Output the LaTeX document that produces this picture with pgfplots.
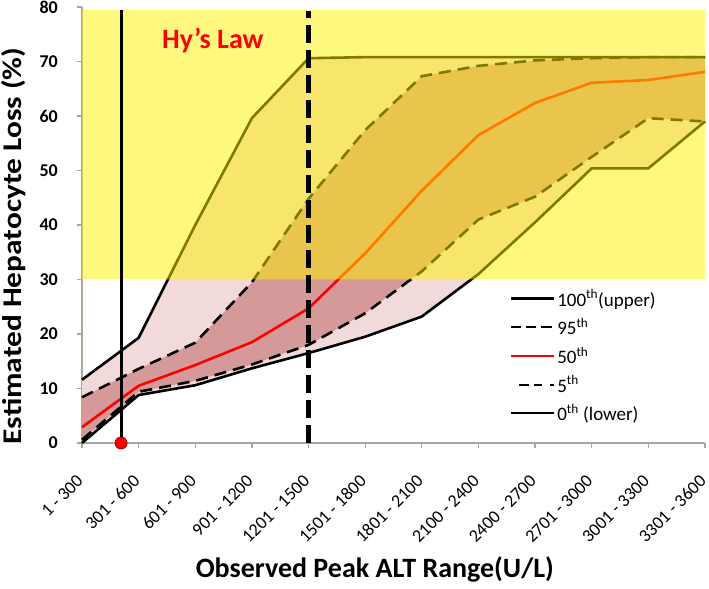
\documentclass[border=0pt]{standalone}
\usepackage{fontspec}
\setmainfont{Carlito}
\newfontfamily\ylabfont[FakeStretch=1.16]{Carlito}
\usepackage{pgfplots}
\pgfplotsset{compat=1.18}
\usepgfplotslibrary{fillbetween}
\definecolor{pinkouter}{HTML}{F2DADA}
\definecolor{pinkinner}{HTML}{D6999A}
\definecolor{axgray}{HTML}{A6A6A6}
\begin{document}
\begin{tikzpicture}
\begin{axis}[
  name=ax,
  scale only axis, width=623bp, height=436bp,
  xmin=0, xmax=11, ymin=0, ymax=80,
  clip=false,
  axis lines*=left,
  axis line style={axgray, line width=1.5bp},
  tick style={axgray, line width=1.2bp},
  tick align=outside,
  major tick length=5bp,
  xtick={0,...,11},
  xticklabels={1 - 300, 301 - 600, 601 - 900, 901 - 1200, 1201 - 1500, 1501 - 1800, 1801 - 2100, 2100 - 2400, 2400 - 2700, 2701 - 3000, 3001 - 3300, 3301 - 3600},
  ytick={0,10,...,80},
  /pgf/number format/assume math mode=true,
  xticklabel style={xshift=-2bp, yshift=-30bp, rotate=45, anchor=east, font=\fontsize{18bp}{21bp}\selectfont, inner sep=0pt},
  yticklabel style={anchor=east, font=\bfseries\fontsize{18bp}{21bp}\selectfont, inner sep=0pt, xshift=-19bp},
  xlabel={Observed Peak ALT Range(U/L)},
  ylabel={Estimated Hepatocyte Loss (\%)},
  xlabel style={at={(axis description cs:0.470,-0.291)}, anchor=center, font=\bfseries\fontsize{28bp}{31bp}\selectfont},
  ylabel style={at={(axis description cs:-0.109,0.452)}, anchor=center, inner sep=0pt, font=\ylabfont\bfseries\fontsize{27bp}{30bp}\selectfont},
  legend style={at={(axis description cs:0.682,0.362)}, anchor=north west, draw=none, fill=none,
    font=\fontsize{19bp}{22bp}\selectfont, row sep=6.5bp, cells={anchor=west}},
  legend image code/.code={\draw[#1] (0bp,0bp) -- (31bp,0bp); \path (31bp,0bp) -- (43bp,0bp);},
]
% percentile curves (invisible, for fills)
\addplot[name path=p100, draw=none, forget plot] coordinates {(0,11.6) (1,19.3) (2,40) (3,59.6) (4,70.6) (5,70.8) (6,70.8) (7,70.8) (8,70.8) (9,70.8) (10,70.8) (11,70.8)};
\addplot[name path=p95, draw=none, forget plot] coordinates {(0,8.4) (1,13.6) (2,18.4) (3,29.5) (4,44.8) (5,57.4) (6,67.3) (7,69.2) (8,70.2) (9,70.6) (10,70.8) (11,70.8)};
\addplot[name path=p50, draw=none, forget plot] coordinates {(0,2.9) (1,10.5) (2,14.3) (3,18.5) (4,24.7) (5,34.8) (6,46.3) (7,56.5) (8,62.4) (9,66.1) (10,66.6) (11,68.1)};
\addplot[name path=p5, draw=none, forget plot] coordinates {(0,0.6) (1,9.4) (2,11.4) (3,14.4) (4,18.0) (5,23.8) (6,31.5) (7,41.0) (8,45.2) (9,52.5) (10,59.6) (11,59.0)};
\addplot[name path=p0, draw=none, forget plot] coordinates {(0,0) (1,8.8) (2,10.6) (3,13.7) (4,16.5) (5,19.5) (6,23.2) (7,31.0) (8,40.5) (9,50.4) (10,50.4) (11,59.0)};
\addplot[fill=pinkouter, draw=none, forget plot] fill between[of=p100 and p0];
\addplot[fill=pinkinner, draw=none, forget plot] fill between[of=p95 and p5];
% visible lines
\addplot[black, line width=2.6bp, forget plot] coordinates {(0,11.6) (1,19.3) (2,40) (3,59.6) (4,70.6) (5,70.8) (6,70.8) (7,70.8) (8,70.8) (9,70.8) (10,70.8) (11,70.8)};
\addplot[black, line width=2.6bp, dash pattern=on 12bp off 7bp, forget plot] coordinates {(0,8.4) (1,13.6) (2,18.4) (3,29.5) (4,44.8) (5,57.4) (6,67.3) (7,69.2) (8,70.2) (9,70.6) (10,70.8) (11,70.8)};
\addplot[black, line width=2.6bp, forget plot] coordinates {(0,0) (1,8.8) (2,10.6) (3,13.7) (4,16.5) (5,19.5) (6,23.2) (7,31.0) (8,40.5) (9,50.4) (10,50.4) (11,59.0)};
\addplot[black, line width=2.6bp, dash pattern=on 12bp off 7bp, forget plot] coordinates {(0,0.6) (1,9.4) (2,11.4) (3,14.4) (4,18.0) (5,23.8) (6,31.5) (7,41.0) (8,45.2) (9,52.5) (10,59.6) (11,59.0)};
\addplot[red, line width=2.6bp, forget plot] coordinates {(0,2.9) (1,10.5) (2,14.3) (3,18.5) (4,24.7) (5,34.8) (6,46.3) (7,56.5) (8,62.4) (9,66.1) (10,66.6) (11,68.1)};
% Hy's law zone
\addplot[fill=yellow, fill opacity=0.5, draw=none, forget plot] coordinates {(0,30) (11,30) (11,79.5) (0,79.5)} \closedcycle;
% threshold lines
\addplot[black, line width=3bp, forget plot] coordinates {(0.69,0) (0.69,79.5)};
\addplot[black, line width=5bp, dash pattern=on 18bp off 7bp, forget plot] coordinates {(4,0) (4,79.3)};
\addplot[only marks, mark=*, mark size=6bp, mark options={fill=red, draw=red!60!black, line width=0.8bp}, forget plot] coordinates {(0.69,0)};
\node[text=red, font=\bfseries\fontsize{28bp}{31bp}\selectfont] at (axis cs:2.31,73.9) {Hy’s Law};
% legend
\addlegendimage{black, line width=2.2bp}
\addlegendentry{100\textsuperscript{th}(upper)}
\addlegendimage{black, line width=2.2bp, dash pattern=on 10bp off 5bp}
\addlegendentry{95\textsuperscript{th}}
\addlegendimage{red, line width=2.2bp}
\addlegendentry{50\textsuperscript{th}}
\addlegendimage{black, line width=2.2bp, dash pattern=on 10bp off 5bp on 10bp off 8bp, dash phase=25bp}
\addlegendentry{5\textsuperscript{th}}
\addlegendimage{black, line width=2.2bp}
\addlegendentry{0\textsuperscript{th} (lower)}
\end{axis}
\pgfresetboundingbox
\path ([shift={(-82bp,-146bp)}]ax.south west) rectangle ([shift={(627bp,443bp)}]ax.south west);
\end{tikzpicture}
\end{document}
